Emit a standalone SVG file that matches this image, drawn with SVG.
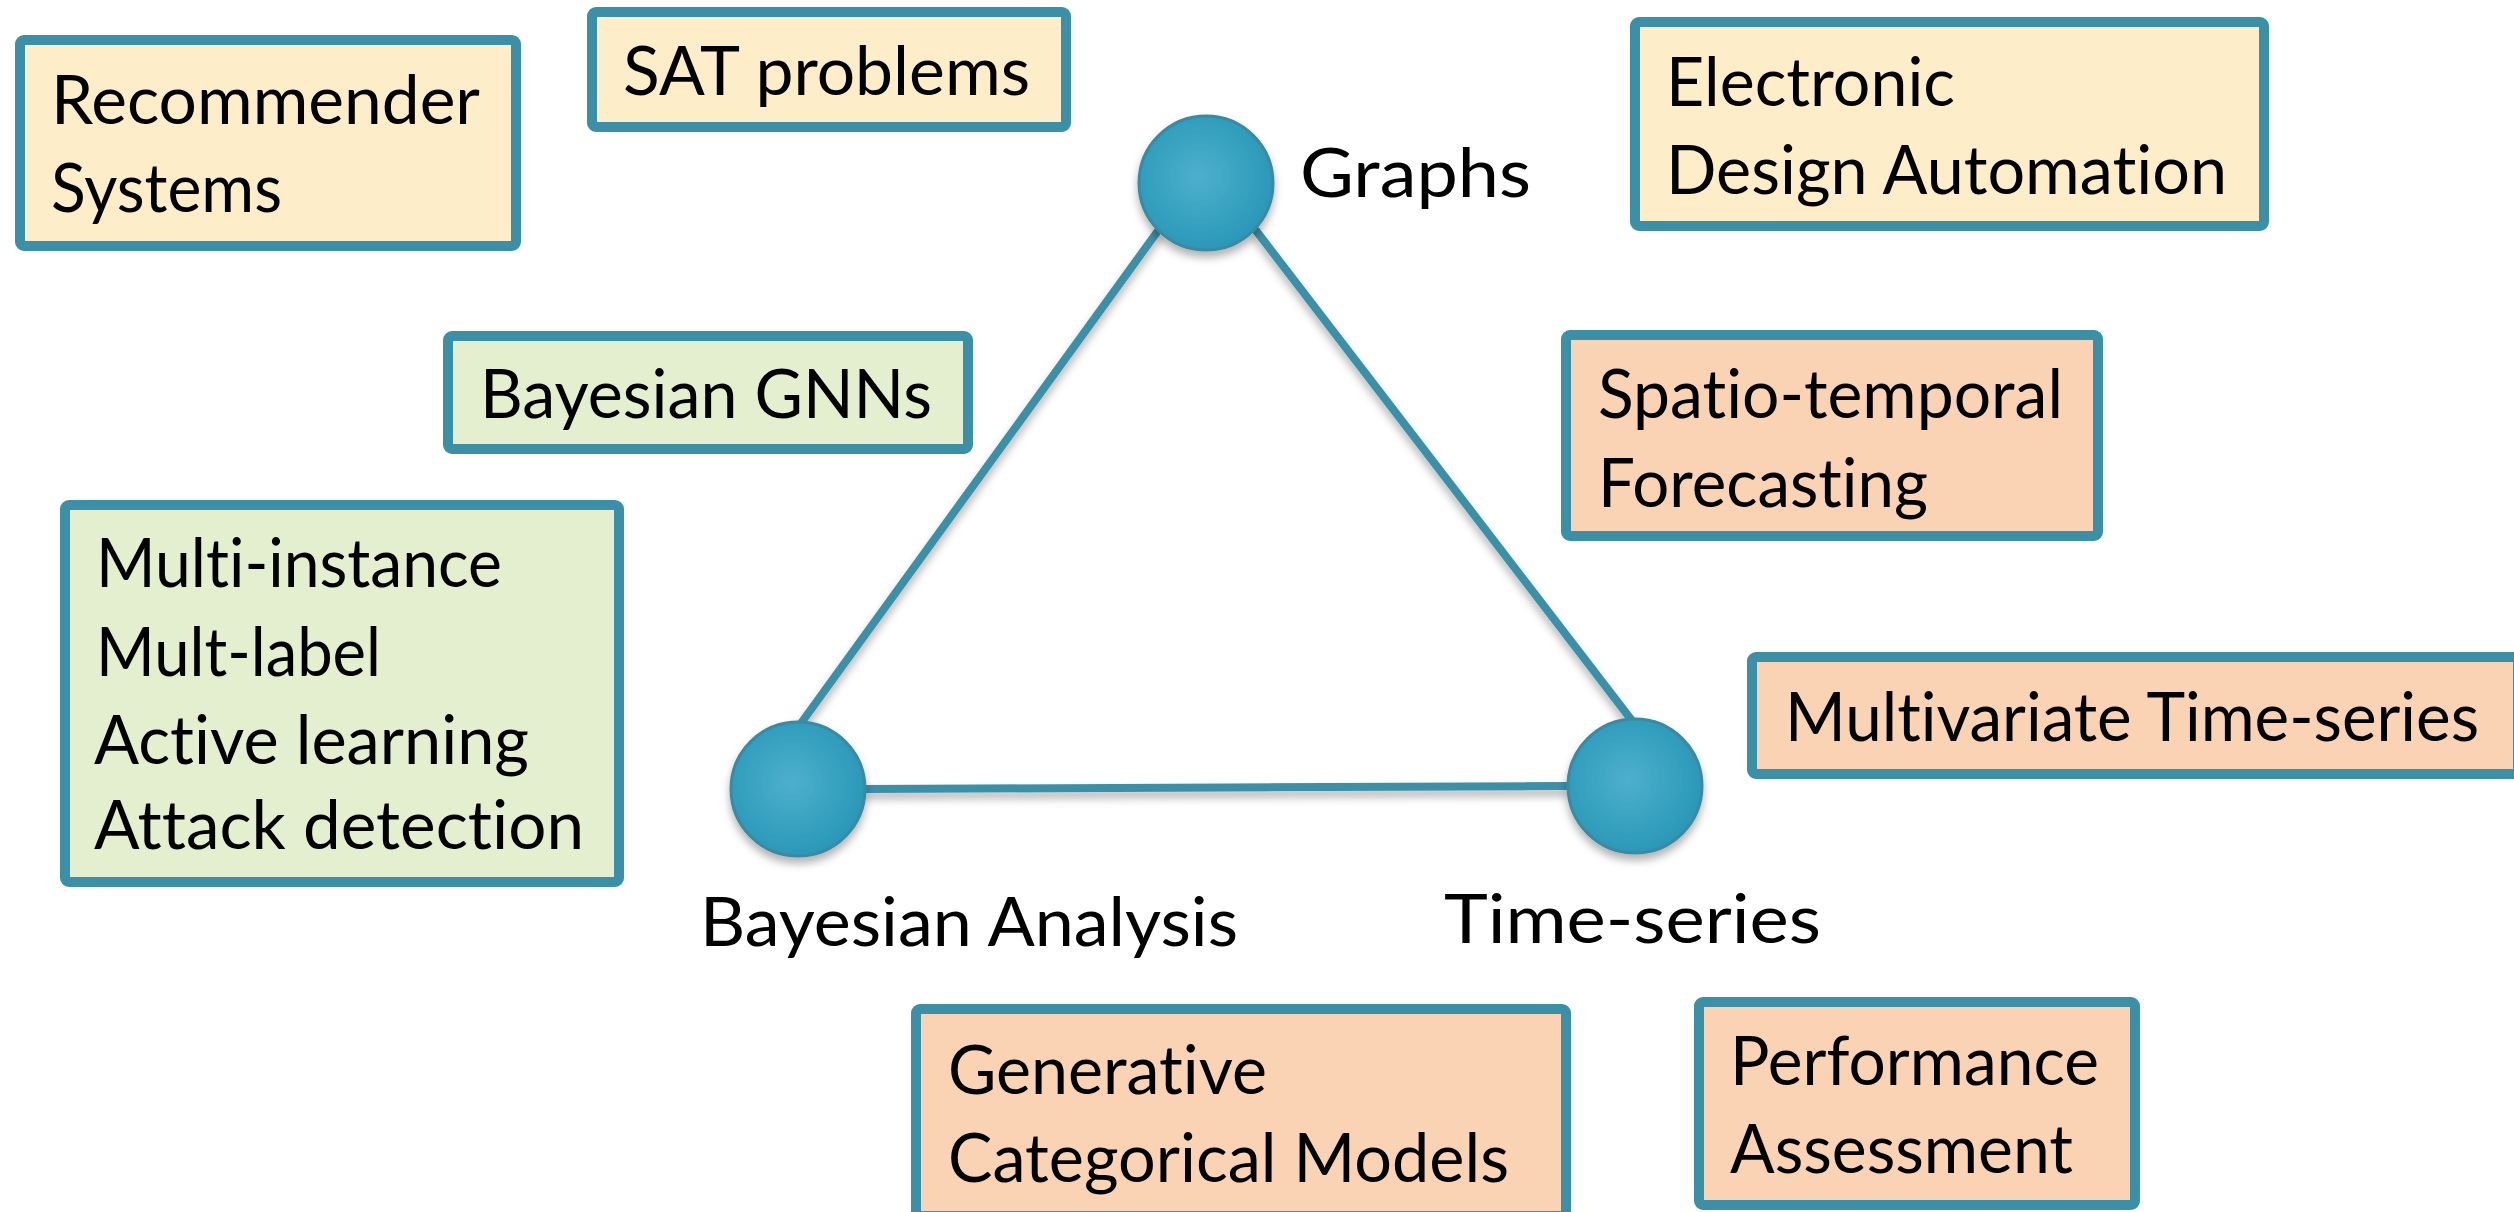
<svg xmlns="http://www.w3.org/2000/svg" width="2514" height="1212" viewBox="0 0 2514 1212">
  <defs>
    <radialGradient id="ballFill" cx="0.45" cy="0.45" r="0.6">
      <stop offset="0" stop-color="#4cb0cd"/>
      <stop offset="1" stop-color="#2896b7"/>
    </radialGradient>
    <filter id="softShadow" filterUnits="userSpaceOnUse" x="0" y="0" width="2514" height="1212">
      <feDropShadow dx="0" dy="6" stdDeviation="4" flood-color="#000" flood-opacity="0.3"/>
    </filter>
    <style>
      .box { stroke: #3b90a8; stroke-width: 10; }
      .cream { fill: #fdeec9; }
      .green { fill: #e3efcf; }
      .peach { fill: #fad2b4; }
      .txt { font-family: Lato, "Open Sans", "Liberation Sans", sans-serif; font-size: 68px; fill: #000;
             font-variant-ligatures: none; font-feature-settings: "liga" 0, "clig" 0; }
      .edge { stroke: #3b90a8; stroke-width: 8; fill: none; }
      .ball { fill: url(#ballFill); stroke: #3a8aa2; stroke-width: 3; filter: url(#softShadow); }
    </style>
  </defs>

  <rect width="2514" height="1212" fill="#ffffff"/>

  <!-- triangle edges -->
  <g id="connectors" filter="url(#softShadow)">
    <line class="edge" x1="1160" y1="228" x2="799" y2="726"/>
    <line class="edge" x1="1254" y1="228" x2="1633" y2="722"/>
    <line class="edge" x1="864" y1="789" x2="1569" y2="786"/>
  </g>

  <!-- vertices -->
  <g id="node-graphs">
    <circle class="ball" cx="1206" cy="183" r="67"/>
    <text class="txt" x="1300" y="197" textLength="231" lengthAdjust="spacingAndGlyphs">Graphs</text>
  </g>
  <g id="node-bayesian">
    <circle class="ball" cx="798" cy="789" r="67"/>
    <text class="txt" x="700" y="946" textLength="538" lengthAdjust="spacingAndGlyphs">Bayesian Analysis</text>
  </g>
  <g id="node-timeseries">
    <circle class="ball" cx="1635" cy="786" r="67"/>
    <text class="txt" x="1444" y="943" textLength="377" lengthAdjust="spacingAndGlyphs">Time-series</text>
  </g>

  <!-- application boxes -->
  <g id="box-recommender">
    <rect class="box cream" x="20" y="40" width="496" height="206" rx="4"/>
    <text class="txt" x="51" y="124" textLength="429" lengthAdjust="spacingAndGlyphs">Recommender</text>
    <text class="txt" x="51" y="212" textLength="231" lengthAdjust="spacingAndGlyphs">Systems</text>
  </g>
  <g id="box-sat">
    <rect class="box cream" x="592" y="12" width="474" height="115" rx="4"/>
    <text class="txt" x="623" y="95" textLength="407" lengthAdjust="spacingAndGlyphs">SAT problems</text>
  </g>
  <g id="box-eda">
    <rect class="box cream" x="1635" y="22" width="629" height="204" rx="4"/>
    <text class="txt" x="1666" y="106" textLength="289" lengthAdjust="spacingAndGlyphs">Electronic</text>
    <text class="txt" x="1666" y="194" textLength="561" lengthAdjust="spacingAndGlyphs">Design Automation</text>
  </g>
  <g id="box-bgnn">
    <rect class="box green" x="448" y="336" width="520" height="113" rx="4"/>
    <text class="txt" x="480" y="418" textLength="452" lengthAdjust="spacingAndGlyphs">Bayesian GNNs</text>
  </g>
  <g id="box-spatio">
    <rect class="box peach" x="1566" y="335" width="532" height="201" rx="4"/>
    <text class="txt" x="1598" y="418" textLength="465" lengthAdjust="spacingAndGlyphs">Spatio-temporal</text>
    <text class="txt" x="1598" y="507" textLength="330" lengthAdjust="spacingAndGlyphs">Forecasting</text>
  </g>
  <g id="box-multi">
    <rect class="box green" x="65" y="505" width="554" height="377" rx="4"/>
    <text class="txt" x="96" y="587" textLength="406" lengthAdjust="spacingAndGlyphs">Multi-instance</text>
    <text class="txt" x="96" y="676" textLength="285" lengthAdjust="spacingAndGlyphs">Mult-label</text>
    <text class="txt" x="94" y="764" textLength="435" lengthAdjust="spacingAndGlyphs">Active learning</text>
    <text class="txt" x="94" y="849" textLength="490" lengthAdjust="spacingAndGlyphs">Attack detection</text>
  </g>
  <g id="box-multivariate">
    <rect class="box peach" x="1752" y="657" width="766" height="117" rx="4"/>
    <text class="txt" x="1785" y="741" textLength="694" lengthAdjust="spacingAndGlyphs">Multivariate Time-series</text>
  </g>
  <g id="box-generative">
    <rect class="box peach" x="916" y="1009" width="650" height="207" rx="4"/>
    <text class="txt" x="948" y="1094" textLength="319" lengthAdjust="spacingAndGlyphs">Generative</text>
    <text class="txt" x="948" y="1182" textLength="561" lengthAdjust="spacingAndGlyphs">Categorical Models</text>
  </g>
  <g id="box-performance">
    <rect class="box peach" x="1699" y="1002" width="436" height="203" rx="4"/>
    <text class="txt" x="1730" y="1085" textLength="369" lengthAdjust="spacingAndGlyphs">Performance</text>
    <text class="txt" x="1730" y="1173" textLength="343" lengthAdjust="spacingAndGlyphs">Assessment</text>
  </g>
</svg>
